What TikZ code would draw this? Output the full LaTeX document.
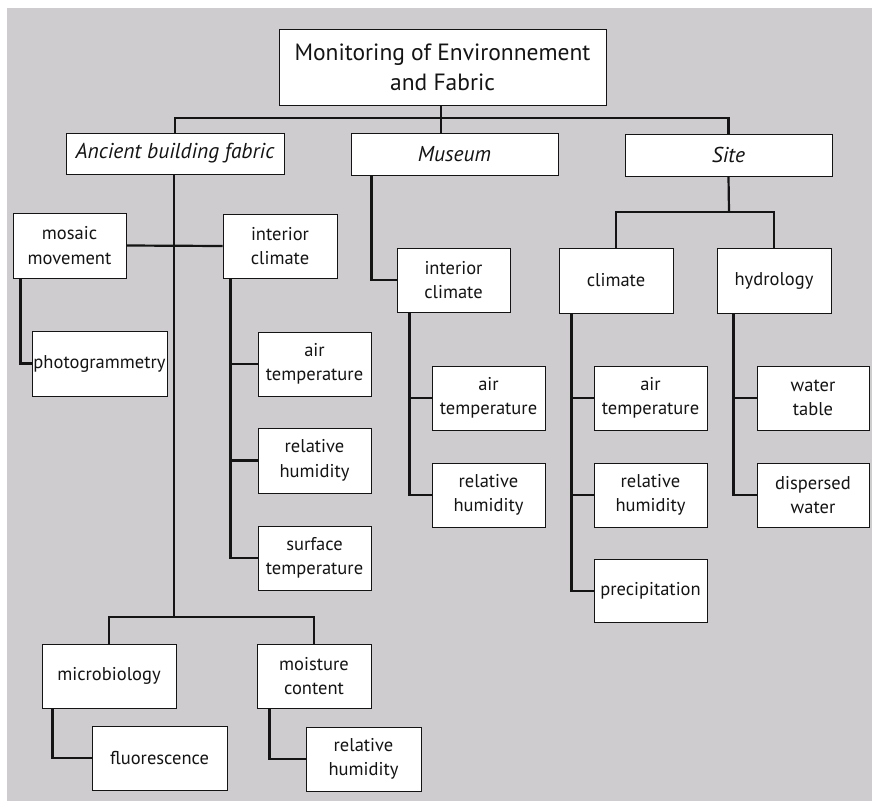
\documentclass[tikz,border=0pt]{standalone}
\usepackage{fontspec}
\setmainfont{PT Sans}
\definecolor{bggray}{RGB}{206,204,206}
\definecolor{ink}{RGB}{20,20,20}
\tikzset{
  box/.style={draw=ink, fill=white, line width=0.9pt, align=center, inner sep=0pt,
    font=\fontsize{18.5}{24.5}\selectfont, text=ink},
  rootbox/.style={box, font=\fontsize{23.5}{30}\selectfont},
  catbox/.style={box, font=\fontsize{21.5}{24}\selectfont\itshape},
  conn/.style={draw=ink, line width=2.2pt}
}
\begin{document}
\begin{tikzpicture}[x=1pt,y=-1pt]
\useasboundingbox (0,0) rectangle (872,806);
\fill[white] (0,0) rectangle (872,806);
\fill[bggray] (7,8) rectangle (872,801);

% nodes
\node[rootbox, minimum width=327, minimum height=76] (root) at (442.5,67) {Monitoring of Environnement\\and Fabric};
\node[catbox, minimum width=218, minimum height=41] (anc) at (175,153.5) {Ancient building fabric};
\node[catbox, minimum width=207, minimum height=42] (mus) at (454.5,154) {Museum};
\node[catbox, minimum width=207, minimum height=42] (site) at (728.5,155) {Site};

\node[box, minimum width=113, minimum height=65] (mosaic) at (69.5,245.5) {mosaic\\movement};
\node[box, minimum width=114, minimum height=64] (aic) at (280,246) {interior\\climate};
\node[box, minimum width=135, minimum height=65] (photo) at (99.5,363.5) {photogrammetry};
\node[box, minimum width=113, minimum height=64] (at1) at (314.5,364) {air\\temperature};
\node[box, minimum width=113, minimum height=65] (rh1) at (314.5,460.5) {relative\\humidity};
\node[box, minimum width=113, minimum height=64] (st1) at (314.5,558) {surface\\temperature};

\node[box, minimum width=113, minimum height=64] (mic) at (453.5,280) {interior\\climate};
\node[box, minimum width=113, minimum height=64] (mat) at (488.5,398) {air\\temperature};
\node[box, minimum width=113, minimum height=64] (mrh) at (488.5,495) {relative\\humidity};

\node[box, minimum width=114, minimum height=65] (clim) at (616,280.5) {climate};
\node[box, minimum width=114, minimum height=65] (hyd) at (774,280.5) {hydrology};
\node[box, minimum width=113, minimum height=64] (sat) at (650.5,398) {air\\temperature};
\node[box, minimum width=113, minimum height=64] (srh) at (650.5,495) {relative\\humidity};
\node[box, minimum width=113, minimum height=63] (prec) at (650.5,591) {precipitation};
\node[box, minimum width=112, minimum height=64] (wt) at (813,398) {water\\table};
\node[box, minimum width=112, minimum height=64] (dw) at (813,495) {dispersed\\water};

\node[box, minimum width=134, minimum height=64] (micro) at (109,676) {microbiology};
\node[box, minimum width=114, minimum height=64] (moist) at (314,676) {moisture\\content};
\node[box, minimum width=135, minimum height=64] (fluor) at (159.5,758) {fluorescence};
\node[box, minimum width=115, minimum height=64] (rhb) at (363.5,759) {relative\\humidity};

% junction coordinates
\coordinate (bus) at (441,118);
\coordinate (siteJ) at (729,212);
\coordinate (ancJ) at (174,617);

% connectors
\draw[conn] (anc.north) |- (bus) -| (site.north);
\draw[conn] (root.south -| bus) -- (mus.north -| bus);

\draw[conn] (anc.south -| ancJ) -- (ancJ);
\draw[conn] (mosaic.east) -- (aic.west);
\draw[conn] (micro.north) |- (ancJ) -| (moist.north);

\draw[conn] ([xshift=8]mosaic.south west) |- (photo.west);
\draw[conn] ([xshift=8]aic.south west) |- (st1.west);
\draw[conn] ([xshift=8]aic.south west) |- (at1.west);
\draw[conn] ([xshift=8]aic.south west) |- (rh1.west);

\draw[conn] ([xshift=21]mus.south west) |- (mic.west);
\draw[conn] ([xshift=13]mic.south west) |- (mat.west);
\draw[conn] ([xshift=13]mic.south west) |- (mrh.west);

\draw[conn] (site.south) -- (siteJ);
\draw[conn] (clim.north) |- (siteJ) -| (hyd.north);
\draw[conn] ([xshift=13]clim.south west) |- (sat.west);
\draw[conn] ([xshift=13]clim.south west) |- (srh.west);
\draw[conn] ([xshift=13]clim.south west) |- (prec.west);
\draw[conn] ([xshift=17]hyd.south west) |- (wt.west);
\draw[conn] ([xshift=17]hyd.south west) |- (dw.west);

\draw[conn] ([xshift=11]micro.south west) |- (fluor.west);
\draw[conn] ([xshift=13]moist.south west) |- (rhb.west);
\end{tikzpicture}
\end{document}
